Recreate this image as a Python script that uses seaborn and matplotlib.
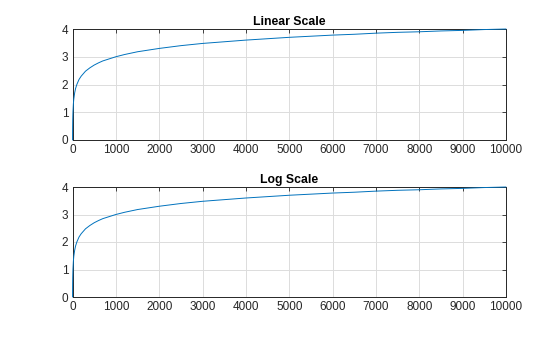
import matplotlib
matplotlib.use("Agg")
import matplotlib.pyplot as plt
import seaborn as sns
import pandas as pd

# Sampled points of the curve (x, y)
x_vals = [1, 2, 3, 5, 10, 20, 30, 50, 70, 100, 150, 200, 300, 400, 500, 600,
          700, 800, 1000, 1200, 1500, 2000, 2500, 3000, 3500, 4000, 4500, 5000,
          5500, 6000, 6500, 7000, 7500, 8000, 8500, 9000, 9500, 10000]
y_vals = [0.0, 0.30, 0.48, 0.70, 1.00, 1.30, 1.48, 1.70, 1.85, 2.00, 2.18, 2.30,
          2.48, 2.60, 2.70, 2.78, 2.85, 2.90, 3.00, 3.08, 3.18, 3.30, 3.40, 3.48,
          3.54, 3.60, 3.65, 3.70, 3.74, 3.78, 3.81, 3.85, 3.88, 3.90, 3.93, 3.95,
          3.98, 4.00]

titles = ["Linear Scale", "Log Scale"]
x_ticks = list(range(0, 10001, 1000))
y_ticks = [0, 1, 2, 3, 4]

df = pd.DataFrame({"x": x_vals, "y": y_vals})

sns.set_style("white")
plt.rcParams["font.family"] = ["Liberation Sans", "DejaVu Sans"]

W, H = 560, 337
fig = plt.figure(figsize=(W / 100, H / 100), dpi=100)

# axes boxes in pixel coordinates: left, top, right, bottom
boxes = [(72.5, 29, 506, 140), (72.5, 187, 506, 297)]

for (l, t, r, b), title in zip(boxes, titles):
    ax = fig.add_axes([l / W, 1 - b / H, (r - l) / W, (b - t) / H])
    sns.lineplot(data=df, x="x", y="y", ax=ax, color="#0072BD", linewidth=0.7)
    for ln in ax.lines:
        ln.set_zorder(3)
        ln.set_clip_on(False)
    ax.set_xlim(0, 10000)
    ax.set_ylim(0, 4)
    ax.set_xticks(x_ticks)
    ax.set_yticks(y_ticks)
    ax.set_xlabel("")
    ax.set_ylabel("")
    ax.grid(True, color="#dcdcdc", linewidth=0.7)
    ax.set_axisbelow(True)
    ax.tick_params(direction="in", length=3, width=0.6, top=True, right=True,
                   labelsize=8.5, colors="#262626", pad=3)
    for s in ax.spines.values():
        s.set_visible(True)
        s.set_color("#262626")
        s.set_linewidth(0.7)
    ax.set_title(title, fontsize=8.8, fontweight="bold", color="#000000", pad=3)

fig.savefig("out.png", dpi=100, facecolor="white")
